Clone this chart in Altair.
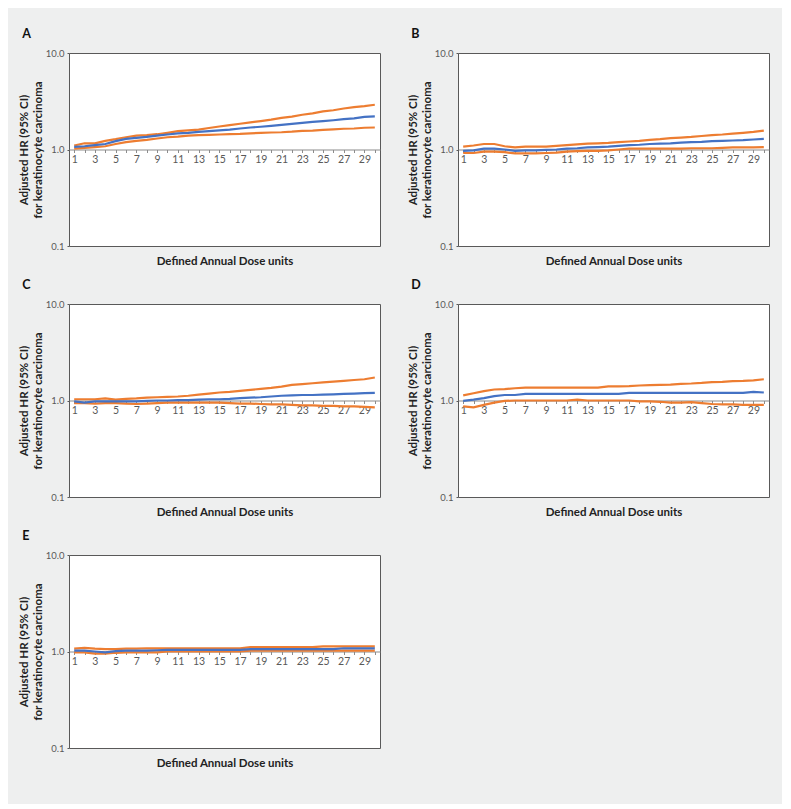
import altair as alt
import pandas as pd

doses = list(range(1, 31))
tick_values = [0.1, 1, 10]

A_hi = [1.10, 1.16, 1.16, 1.23, 1.28, 1.34, 1.39, 1.41, 1.44, 1.49, 1.55, 1.58, 1.61, 1.67, 1.73,
        1.79, 1.85, 1.91, 1.97, 2.04, 2.13, 2.19, 2.29, 2.37, 2.48, 2.55, 2.66, 2.75, 2.82, 2.91]
A_est = [1.066, 1.08, 1.11, 1.14, 1.22, 1.29, 1.32, 1.35, 1.39, 1.43, 1.47, 1.49, 1.52, 1.55, 1.58,
         1.61, 1.65, 1.69, 1.72, 1.76, 1.80, 1.84, 1.89, 1.93, 1.97, 2.01, 2.06, 2.10, 2.18, 2.20]
A_lo = [1.02, 1.04, 1.06, 1.08, 1.14, 1.19, 1.23, 1.26, 1.30, 1.34, 1.36, 1.39, 1.41, 1.42, 1.43,
        1.44, 1.45, 1.47, 1.49, 1.50, 1.51, 1.53, 1.56, 1.57, 1.60, 1.62, 1.64, 1.65, 1.68, 1.69]

B_hi = [1.07, 1.10, 1.14, 1.14, 1.08, 1.05, 1.07, 1.07, 1.07, 1.09, 1.11, 1.13, 1.15, 1.16, 1.17,
        1.19, 1.21, 1.23, 1.26, 1.28, 1.31, 1.33, 1.35, 1.38, 1.41, 1.43, 1.46, 1.49, 1.52, 1.57]
B_est = [0.97, 0.98, 1.02, 1.02, 1.00, 0.97, 0.98, 0.98, 0.99, 1.00, 1.02, 1.03, 1.05, 1.06, 1.07,
         1.09, 1.11, 1.12, 1.14, 1.15, 1.16, 1.18, 1.19, 1.20, 1.22, 1.23, 1.24, 1.25, 1.27, 1.29]
B_lo = [0.92, 0.92, 0.95, 0.95, 0.94, 0.91, 0.91, 0.91, 0.92, 0.93, 0.95, 0.96, 0.97, 0.97, 0.98,
        1.00, 1.02, 1.02, 1.02, 1.02, 1.02, 1.02, 1.03, 1.03, 1.03, 1.04, 1.05, 1.05, 1.05, 1.06]

C_hi = [1.03, 1.03, 1.03, 1.05, 1.02, 1.04, 1.05, 1.07, 1.08, 1.09, 1.10, 1.12, 1.15, 1.18, 1.21,
        1.23, 1.26, 1.29, 1.32, 1.35, 1.39, 1.45, 1.48, 1.51, 1.54, 1.57, 1.60, 1.63, 1.66, 1.73]
C_est = [0.98, 0.95, 0.98, 0.98, 0.98, 0.98, 0.98, 0.99, 1.00, 1.00, 1.01, 1.01, 1.02, 1.03, 1.03,
         1.04, 1.06, 1.07, 1.08, 1.10, 1.12, 1.13, 1.14, 1.14, 1.15, 1.16, 1.17, 1.18, 1.19, 1.20]
C_lo = [0.94, 0.94, 0.93, 0.94, 0.94, 0.93, 0.92, 0.93, 0.94, 0.95, 0.95, 0.95, 0.95, 0.95, 0.95,
        0.94, 0.93, 0.93, 0.92, 0.91, 0.91, 0.90, 0.89, 0.89, 0.88, 0.88, 0.87, 0.87, 0.86, 0.85]

D_hi = [1.13, 1.19, 1.25, 1.30, 1.31, 1.34, 1.36, 1.36, 1.36, 1.36, 1.36, 1.36, 1.36, 1.36, 1.40,
        1.40, 1.41, 1.43, 1.44, 1.45, 1.46, 1.49, 1.50, 1.52, 1.55, 1.56, 1.59, 1.60, 1.62, 1.66]
D_est = [0.99, 1.02, 1.06, 1.11, 1.14, 1.14, 1.17, 1.17, 1.17, 1.17, 1.17, 1.17, 1.17, 1.17, 1.17,
         1.17, 1.20, 1.20, 1.20, 1.20, 1.20, 1.20, 1.20, 1.20, 1.20, 1.20, 1.20, 1.20, 1.23, 1.21]
D_lo = [0.87, 0.85, 0.90, 0.95, 0.99, 1.00, 1.00, 1.00, 1.00, 1.00, 1.00, 1.02, 1.00, 1.00, 1.00,
        1.00, 1.00, 0.98, 0.98, 0.97, 0.95, 0.95, 0.96, 0.94, 0.92, 0.91, 0.91, 0.90, 0.90, 0.90]

E_hi = [1.07, 1.09, 1.07, 1.06, 1.06, 1.07, 1.07, 1.08, 1.08, 1.08, 1.08, 1.08, 1.08, 1.08, 1.08,
        1.08, 1.08, 1.11, 1.11, 1.11, 1.11, 1.11, 1.11, 1.11, 1.13, 1.13, 1.13, 1.13, 1.13, 1.13]
E_est = [1.02, 1.02, 1.00, 0.98, 1.01, 1.02, 1.02, 1.02, 1.03, 1.04, 1.04, 1.04, 1.04, 1.04, 1.04,
         1.04, 1.04, 1.06, 1.06, 1.06, 1.06, 1.06, 1.06, 1.06, 1.06, 1.06, 1.08, 1.08, 1.08, 1.08]
E_lo = [0.98, 0.98, 0.95, 0.95, 0.97, 0.98, 0.98, 0.98, 0.98, 1.00, 1.00, 1.00, 1.00, 1.00, 1.00,
        1.00, 1.00, 1.02, 1.02, 1.02, 1.02, 1.02, 1.02, 1.02, 1.02, 1.02, 1.02, 1.02, 1.02, 1.02]

BLUE = "#4472C4"
ORANGE = "#ED7D31"
FONT = "Lato"
W, H = 311, 193


def panel(letter, est, lo, hi):
    rows = []
    for s, vals in (("lo", lo), ("hi", hi), ("est", est)):
        for d, v in zip(doses, vals):
            rows.append({"dose": d, "hr": v, "series": s})
    df = pd.DataFrame(rows)
    x = alt.X(
        "dose:O",
        scale=alt.Scale(type="point", padding=0.5),
        axis=alt.Axis(
            orient="bottom", offset=-H / 2, labelAngle=0,
            labelExpr="datum.value % 2 == 1 ? datum.label : ''",
            tickSize=3, tickColor="#8c8c8c", domainColor="#8c8c8c", domainWidth=1.2,
            labelColor="#595959", labelFontSize=10.5, labelPadding=2, labelFont=FONT,
            title="Defined Annual Dose units", titleY=H / 2 + 15, titleBaseline="middle",
            titleFontWeight="bold", titleFontSize=11.5, titleColor="#222", titleFont=FONT,
        ),
    )
    y = alt.Y(
        "hr:Q",
        scale=alt.Scale(type="log", domain=[0.1, 10]),
        axis=alt.Axis(
            values=tick_values, format=".1f", tickSize=2, tickColor="#595959", grid=False,
            domain=False, labelColor="#595959", labelFontSize=9.5, labelPadding=3, labelFont=FONT,
            title=["Adjusted HR (95% CI)", "for keratinocyte carcinoma"],
            titleFontWeight="bold", titleFontSize=11.5, titlePadding=2, titleColor="#222",
            titleFont=FONT, titleLineHeight=14,
        ),
    )
    base = alt.Chart(df)
    ci = base.transform_filter("datum.series != 'est'").mark_line(
        color=ORANGE, strokeWidth=2.2).encode(x=x, y=y, detail="series:N")
    mid = base.transform_filter("datum.series == 'est'").mark_line(
        color=BLUE, strokeWidth=2.2).encode(x=x, y=y)
    return alt.layer(ci, mid).properties(
        width=W, height=H,
        title=alt.TitleParams(letter, anchor="start", frame="bounds", fontSize=12.5,
                              fontWeight="bold", color="#111", font=FONT, offset=8, dx=4),
    )


pA = panel("A", A_est, A_lo, A_hi)
pB = panel("B", B_est, B_lo, B_hi)
pC = panel("C", C_est, C_lo, C_hi)
pD = panel("D", D_est, D_lo, D_hi)
pE = panel("E", E_est, E_lo, E_hi)

chart = alt.vconcat(
    alt.hconcat(pA, pB, spacing=25),
    alt.hconcat(pC, pD, spacing=25),
    alt.hconcat(pE, spacing=25),
    spacing=11,
).properties(
    background="#eeefef",
    padding={"left": 9, "top": 19, "right": 12, "bottom": 35},
).configure_view(stroke="#595959", strokeWidth=1, fill="white")

chart.save("out.html", embed_options={"renderer": "svg", "actions": False})
